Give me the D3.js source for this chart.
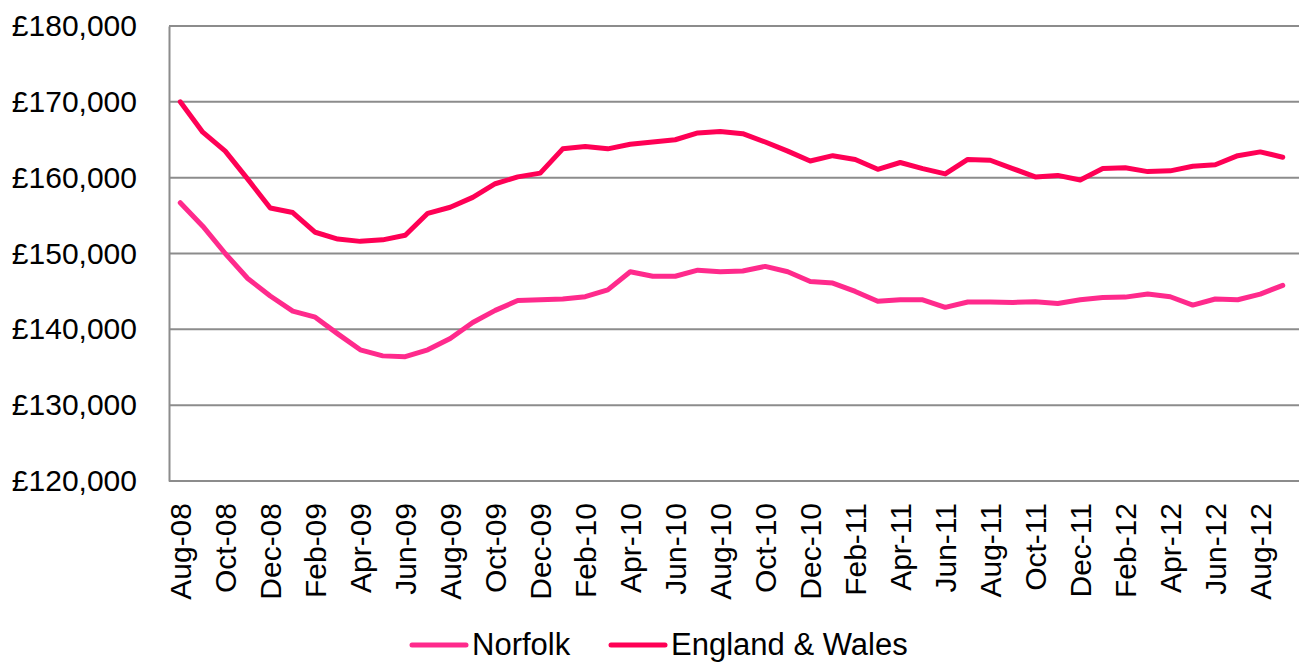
<!DOCTYPE html>
<html>
<head>
<meta charset="utf-8">
<script src="https://cdn.jsdelivr.net/npm/d3@7"></script>
<style>
  body { margin: 0; background: #fff; }
  text { font-family: "Liberation Sans", Arial, sans-serif; fill: #000; }
</style>
</head>
<body>
<svg class="chart" width="1299" height="662"></svg>
<script>
// months, Aug-08 .. Sep-12
let months = ['Aug-08','Sep-08','Oct-08','Nov-08','Dec-08','Jan-09','Feb-09','Mar-09','Apr-09','May-09',
  'Jun-09','Jul-09','Aug-09','Sep-09','Oct-09','Nov-09','Dec-09','Jan-10','Feb-10','Mar-10',
  'Apr-10','May-10','Jun-10','Jul-10','Aug-10','Sep-10','Oct-10','Nov-10','Dec-10','Jan-11',
  'Feb-11','Mar-11','Apr-11','May-11','Jun-11','Jul-11','Aug-11','Sep-11','Oct-11','Nov-11',
  'Dec-11','Jan-12','Feb-12','Mar-12','Apr-12','May-12','Jun-12','Jul-12','Aug-12','Sep-12']

let norfolk = [156700,153600,150000,146700,144400,142400,141600,139400,137300,136500,
  136400,137300,138800,140900,142500,143800,143900,144000,144300,145200,
  147600,147000,147000,147800,147600,147700,148300,147600,146300,146100,
  145000,143700,143900,143900,142900,143600,143600,143550,143650,143400,
  143900,144200,144250,144650,144300,143200,144000,143900,144650,145800]

let englandWales = [170000,166000,163500,159800,156000,155400,152800,151900,151600,151800,
  152400,155300,156100,157400,159200,160100,160600,163800,164100,163800,
  164400,164700,165000,165900,166100,165800,164700,163500,162200,162900,
  162400,161100,162000,161200,160500,162400,162300,161200,160100,160300,
  159700,161200,161300,160800,160900,161500,161700,162900,163400,162700]

let yTicks = [120000,130000,140000,150000,160000,170000,180000]

let seriesNames = ['Norfolk', 'England & Wales']
let seriesColors = ['#ff2a8c', '#ff0055']

let svg = d3.select('.chart')

let plotLeft = 169, plotRight = 1294, plotTop = 26, plotBottom = 481

let x = d3.scaleBand().domain(months).range([plotLeft, plotRight])
let y = d3.scaleLinear().domain([120000, 180000]).range([plotBottom, plotTop])

// gridlines
svg.append('g')
  .selectAll('line')
  .data(yTicks)
  .enter()
  .append('line')
  .attr('x1', plotLeft)
  .attr('x2', 1299)
  .attr('y1', d => y(d))
  .attr('y2', d => y(d))
  .attr('stroke', '#8c8c8c')
  .attr('stroke-width', 2)

// y axis
let yAxis = svg.append('g')
  .attr('transform', 'translate(' + plotLeft + ',0)')
  .call(d3.axisLeft(y).tickValues(yTicks).tickSize(0).tickPadding(32)
    .tickFormat(d => '£' + d3.format(',')(d)))
yAxis.select('.domain').attr('stroke', '#8c8c8c').attr('stroke-width', 2)
yAxis.selectAll('text')
  .attr('font-size', 30)
  .attr('font-family', '"Liberation Sans", Arial, sans-serif')
  .attr('fill', '#000')

// x axis labels, every 2nd month
let xAxis = svg.append('g')
  .attr('transform', 'translate(0,' + plotBottom + ')')
  .call(d3.axisBottom(x).tickValues(months.filter((m, i) => i % 2 == 0)).tickSize(0))
xAxis.select('.domain').remove()
xAxis.selectAll('text')
  .attr('font-size', 30)
  .attr('font-family', '"Liberation Sans", Arial, sans-serif')
  .attr('fill', '#000')
  .attr('text-anchor', 'end')
  .attr('transform', 'rotate(-90)')
  .attr('x', -22)
  .attr('y', 0)
  .attr('dy', '0.35em')

// lines
let line = d3.line()
  .x((d, i) => x(months[i]) + x.bandwidth() / 2)
  .y(d => y(d))

;[norfolk, englandWales].forEach(function (series, i) {
  svg.append('path')
    .datum(series)
    .attr('d', line)
    .attr('fill', 'none')
    .attr('stroke', seriesColors[i])
    .attr('stroke-width', 5)
    .attr('stroke-linejoin', 'round')
    .attr('stroke-linecap', 'round')
})

// legend
let legendX = [412, 611]
let legend = svg.append('g')
seriesNames.forEach(function (name, i) {
  legend.append('line')
    .attr('x1', legendX[i]).attr('x2', legendX[i] + 54)
    .attr('y1', 645).attr('y2', 645)
    .attr('stroke', seriesColors[i])
    .attr('stroke-width', 5)
    .attr('stroke-linecap', 'round')
  legend.append('text')
    .attr('x', legendX[i] + 60)
    .attr('y', 655)
    .attr('font-size', 31)
    .text(name)
})
</script>
</body>
</html>
